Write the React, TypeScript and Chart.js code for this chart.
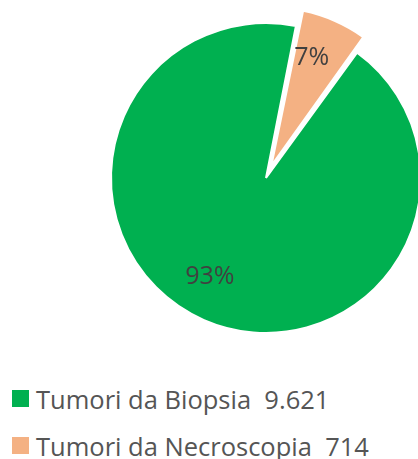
import React, { useEffect, useRef } from "react";
import { Chart, registerables } from "chart.js";

Chart.register(...registerables);

const categories = ["Tumori da Biopsia", "Tumori da Necroscopia"];
const values = [9621, 714];
const colors = ["#00B050", "#F4B183"];
const sliceOffsets = [0, 54];

function formatIt(n: number): string {
  return String(n).replace(/\B(?=(\d{3})+(?!\d))/g, ".");
}

const radiusFix = {
  id: "radiusFix",
  afterDatasetsUpdate(chart: any, _args: any, opts: any) {
    const meta = chart.getDatasetMeta(0);
    meta.data.forEach((arc: any) => {
      const off = ((arc.options && arc.options.offset) || 0) / 4;
      if (!off) return;
      const circ = arc.endAngle - arc.startAngle;
      const fix = 1 - Math.sin(Math.min(Math.PI, circ));
      arc.outerRadius = arc.outerRadius - off * fix + (opts.extra || 0);
    });
  },
};

const pctLabels = {
  id: "pctLabels",
  afterDatasetsDraw(chart: any, _args: any, opts: any) {
    const ctx = chart.ctx;
    const meta = chart.getDatasetMeta(0);
    const data = chart.data.datasets[0].data as number[];
    const total = data.reduce((a, b) => a + b, 0);
    meta.data.forEach((arc: any, i: number) => {
      const { x, y, startAngle, endAngle, outerRadius } = arc;
      const half = (startAngle + endAngle) / 2;
      const off = ((arc.options && arc.options.offset) || 0) / 4;
      const cx = x + Math.cos(half) * off;
      const cy = y + Math.sin(half) * off;
      const ang = half + ((opts.angleShift && opts.angleShift[i]) || 0) * Math.PI / 180;
      const r = outerRadius * opts.ratio[i];
      ctx.save();
      ctx.font = opts.font;
      ctx.fillStyle = opts.color;
      ctx.textAlign = "center";
      ctx.textBaseline = "middle";
      ctx.fillText(Math.round((data[i] / total) * 100) + "%", cx + Math.cos(ang) * r, cy + Math.sin(ang) * r);
      ctx.restore();
    });
  },
};

export default function App() {
  const ref = useRef<HTMLCanvasElement | null>(null);

  useEffect(() => {
    if (!ref.current) return;
    const chart = new Chart(ref.current, {
      type: "pie",
      data: {
        labels: categories,
        datasets: [
          {
            data: values,
            backgroundColor: colors,
            borderColor: "#ffffff",
            borderWidth: 2,
            offset: sliceOffsets,
          },
        ],
      },
      options: {
        responsive: false,
        maintainAspectRatio: false,
        animation: false,
        radius: 155,
        rotation: 36,
        layout: { padding: 0 },
        plugins: {
          legend: { display: false },
          tooltip: { enabled: false },
          radiusFix: { extra: 3 },
          pctLabels: {
            ratio: [0.735, 0.765],
            angleShift: [6, -3],
            font: "25px 'Open Sans'",
            color: "#404040",
          },
        } as any,
      },
      plugins: [radiusFix, pctLabels],
    } as any);
    return () => chart.destroy();
  }, []);

  return (
    <div
      style={{
        position: "fixed",
        left: 0,
        top: 0,
        width: 418,
        height: 459,
        overflow: "hidden",
        background: "#ffffff",
      }}
    >
      <canvas
        ref={ref}
        width={532}
        height={356}
        style={{ position: "absolute", left: 0, top: 0, display: "block" }}
      />
      <div style={{ position: "absolute", left: 12, top: 375 }}>
        {categories.map((c, i) => (
          <div key={c} style={{ display: "flex", alignItems: "center", height: 47 }}>
            <span
              style={{
                display: "inline-block",
                width: 17,
                height: 17,
                background: colors[i],
                marginRight: 7,
                flex: "none",
              }}
            />
            <span
              style={{
                fontFamily: "'Open Sans'",
                fontSize: 25.5,
                color: "#555555",
                whiteSpace: "pre",
                lineHeight: "normal",
              }}
            >
              {c + "  " + formatIt(values[i])}
            </span>
          </div>
        ))}
      </div>
    </div>
  );
}
